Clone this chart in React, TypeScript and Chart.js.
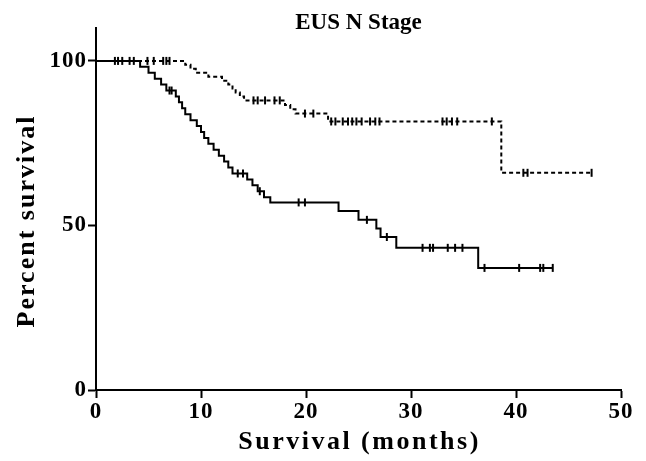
import React, { useEffect, useRef } from "react";
import { Chart, registerables } from "chart.js";

Chart.register(...registerables);

// Group with dashed line (upper curve)
const dashedTimes = [0, 8.5, 9.0, 9.5, 10.7, 12.0, 12.6, 13.0, 13.3, 13.7, 14.1, 18.0, 18.5, 19.0, 22.1, 38.6, 47.2];
const dashedSurv = [100, 98.8, 97.6, 96.4, 95.2, 94.0, 92.8, 91.6, 90.4, 89.2, 88.0, 86.6, 85.3, 84.0, 81.6, 66.0, 66.0];
const dashedCensor = [1.8, 2.1, 2.5, 4.9, 5.5, 6.4, 6.7, 7.0, 15.0, 15.4, 16.1, 17.0, 17.5, 19.9, 20.7, 22.4, 22.8, 23.5, 24.0, 24.4, 24.8, 25.3, 26.1, 26.6, 27.0, 33.0, 33.4, 33.9, 34.4, 37.7, 40.7, 41.1, 47.2];

// Group with solid line (lower curve)
const solidTimes = [0, 4.2, 5.0, 5.6, 6.2, 6.7, 7.6, 7.9, 8.2, 8.5, 9.0, 9.6, 10.0, 10.3, 10.7, 11.2, 11.7, 12.2, 12.6, 13.0, 14.4, 14.9, 15.4, 16.0, 16.6, 23.1, 25.0, 26.7, 27.1, 28.6, 36.4, 43.5];
const solidSurv = [100, 98.2, 96.4, 94.6, 92.8, 91.0, 89.2, 87.4, 85.6, 83.8, 82.0, 80.2, 78.4, 76.6, 74.8, 73.0, 71.2, 69.4, 67.6, 65.8, 64.0, 62.2, 60.4, 58.6, 57.0, 54.4, 51.7, 49.1, 46.5, 43.2, 37.1, 37.1];
const solidCensor = [3.2, 3.6, 7.0, 7.2, 13.5, 14.0, 15.6, 19.3, 19.9, 25.8, 27.7, 31.1, 31.8, 32.1, 33.5, 34.2, 34.9, 37.0, 40.3, 42.3, 42.6, 43.5];

const xTicks = [0, 10, 20, 30, 40, 50];
const yTicks = [0, 50, 100];

const titleText = "EUS N Stage";
const xTitle = "Survival (months)";
const yTitle = "Percent survival";

const FONT = "'Liberation Serif', 'Times New Roman', serif";

function survAt(times: number[], surv: number[], t: number) {
  let v = surv[0];
  for (let i = 0; i < times.length; i++) {
    if (times[i] <= t) v = surv[i];
  }
  return v;
}

const textPlugin = {
  id: "textPlugin",
  beforeDraw(chart: any) {
    (chart.ctx as any).letterSpacing = "1px";
  },
  afterDraw(chart: any) {
    const { ctx, chartArea } = chart;
    const cx = (chartArea.left + chartArea.right) / 2;
    ctx.save();
    ctx.fillStyle = "#000";
    (ctx as any).letterSpacing = "0px";
    ctx.font = `bold 23px ${FONT}`;
    ctx.textAlign = "center";
    ctx.textBaseline = "alphabetic";
    ctx.fillText(titleText, cx, 29);

    (ctx as any).letterSpacing = "2.5px";
    ctx.font = `bold 26px ${FONT}`;
    ctx.textBaseline = "middle";
    ctx.fillText(xTitle, cx + 1, 442);

    (ctx as any).letterSpacing = "2px";
    ctx.translate(27, 222);
    ctx.rotate(-Math.PI / 2);
    ctx.fillText(yTitle, 1, 0);
    ctx.restore();
  },
};

export default function App() {
  const ref = useRef<HTMLCanvasElement>(null);
  useEffect(() => {
    if (!ref.current) return;
    const line = (times: number[], surv: number[]) => times.map((t, i) => ({ x: t, y: surv[i] }));
    const cens = (c: number[], times: number[], surv: number[]) => c.map((t) => ({ x: t, y: survAt(times, surv, t) }));
    const censorStyle = {
      showLine: false,
      pointStyle: "line",
      rotation: 90,
      pointRadius: 4,
      borderColor: "#000",
      backgroundColor: "#000",
      pointBorderWidth: 2,
    };
    const chart = new Chart(ref.current, {
      type: "scatter",
      data: {
        datasets: [
          {
            data: line(dashedTimes, dashedSurv),
            showLine: true,
            stepped: "before",
            borderColor: "#000",
            borderWidth: 2,
            borderDash: [4, 3],
            pointRadius: 0,
          },
          {
            data: line(solidTimes, solidSurv),
            showLine: true,
            stepped: "before",
            borderColor: "#000",
            borderWidth: 2,
            pointRadius: 0,
          },
          { data: cens(dashedCensor, dashedTimes, dashedSurv), ...censorStyle },
          { data: cens(solidCensor, solidTimes, solidSurv), ...censorStyle },
        ] as any,
      },
      options: {
        responsive: false,
        animation: false,
        devicePixelRatio: 1,
        layout: { padding: { left: 0, right: 25, top: 28, bottom: 0 } },
        plugins: { legend: { display: false }, tooltip: { enabled: false }, title: { display: false } },
        scales: {
          x: {
            type: "linear",
            min: 0,
            max: 50,
            afterFit: (s: any) => { s.height = 71; },
            afterBuildTicks: (s: any) => { s.ticks = xTicks.map((v) => ({ value: v })); },
            border: { display: true, color: "#000", width: 2 },
            grid: { display: true, drawOnChartArea: false, drawTicks: true, tickLength: 8, tickWidth: 2, tickColor: "#000" },
            ticks: { color: "#000", font: { family: FONT, size: 23, weight: "bold" }, padding: 0, maxRotation: 0 },
            title: { display: false },
          },
          y: {
            type: "linear",
            min: 0,
            max: 110,
            afterFit: (s: any) => { s.width = 96; },
            afterBuildTicks: (s: any) => { s.ticks = yTicks.map((v) => ({ value: v })); },
            border: { display: true, color: "#000", width: 2 },
            grid: { display: true, drawOnChartArea: false, drawTicks: true, tickLength: 8, tickWidth: 2, tickColor: "#000" },
            ticks: { color: "#000", font: { family: FONT, size: 23, weight: "bold" }, padding: 1 },
            title: { display: false },
          },
        },
      } as any,
      plugins: [textPlugin],
    });
    return () => chart.destroy();
  }, []);
  return (
    <div style={{ position: "absolute", left: 0, top: 0, width: 646, height: 461, background: "#fff" }}>
      <canvas ref={ref} width={646} height={461} style={{ width: 646, height: 461 }} />
    </div>
  );
}
